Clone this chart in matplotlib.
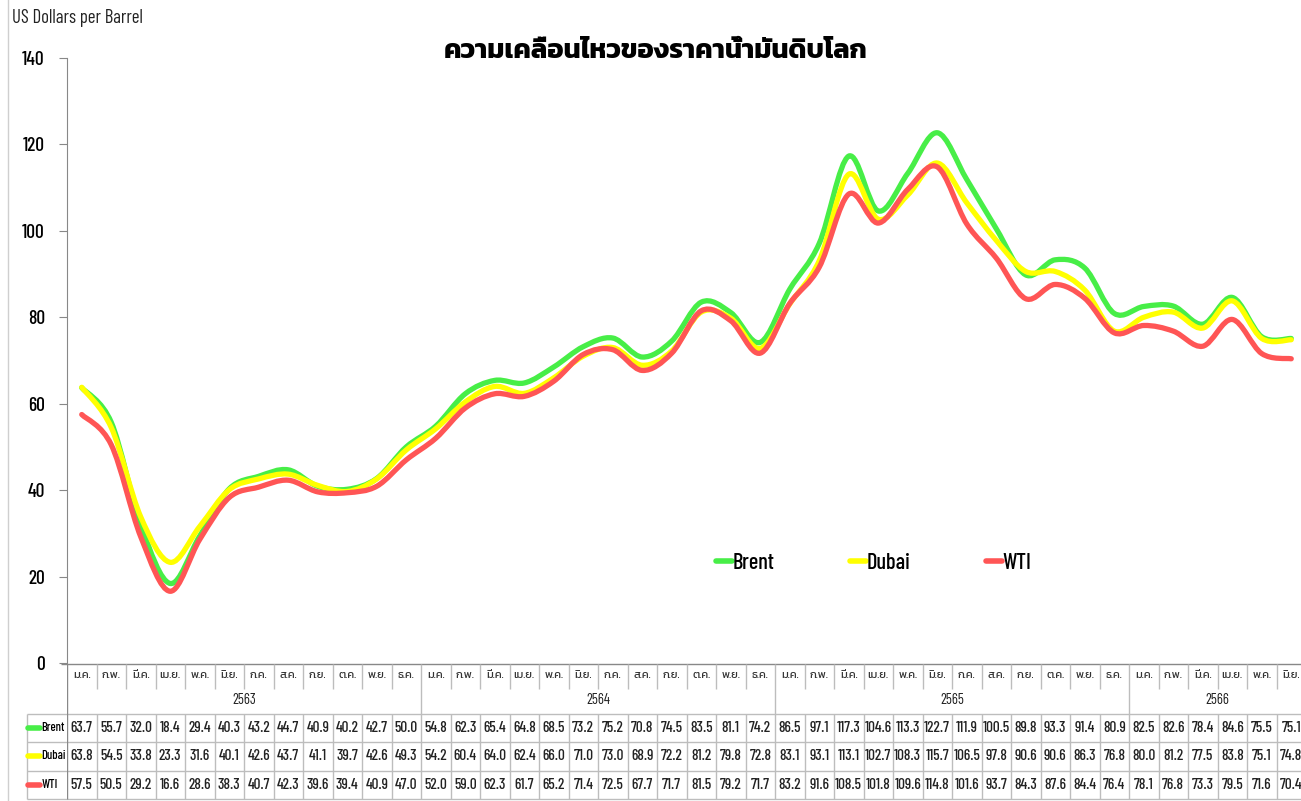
import numpy as np
import matplotlib
matplotlib.use("Agg")
import matplotlib.pyplot as plt
from matplotlib.path import Path
from matplotlib.patches import PathPatch
from matplotlib.lines import Line2D

# months (Thai abbreviations) and Buddhist-era years
months = ["ม.ค.", "ก.พ.", "มี.ค.", "เม.ย.", "พ.ค.", "มิ.ย.",
          "ก.ค.", "ส.ค.", "ก.ย.", "ต.ค.", "พ.ย.", "ธ.ค."]
years = ["2563", "2564", "2565", "2566"]
month_labels = months * 3 + months[:6]

brent = [63.7, 55.7, 32.0, 18.4, 29.4, 40.3, 43.2, 44.7, 40.9, 40.2, 42.7, 50.0,
         54.8, 62.3, 65.4, 64.8, 68.5, 73.2, 75.2, 70.8, 74.5, 83.5, 81.1, 74.2,
         86.5, 97.1, 117.3, 104.6, 113.3, 122.7, 111.9, 100.5, 89.8, 93.3, 91.4, 80.9,
         82.5, 82.6, 78.4, 84.6, 75.5, 75.1]
dubai = [63.8, 54.5, 33.8, 23.3, 31.6, 40.1, 42.6, 43.7, 41.1, 39.7, 42.6, 49.3,
         54.2, 60.4, 64.0, 62.4, 66.0, 71.0, 73.0, 68.9, 72.2, 81.2, 79.8, 72.8,
         83.1, 93.1, 113.1, 102.7, 108.3, 115.7, 106.5, 97.8, 90.6, 90.6, 86.3, 76.8,
         80.0, 81.2, 77.5, 83.8, 75.1, 74.8]
wti = [57.5, 50.5, 29.2, 16.6, 28.6, 38.3, 40.7, 42.3, 39.6, 39.4, 40.9, 47.0,
       52.0, 59.0, 62.3, 61.7, 65.2, 71.4, 72.5, 67.7, 71.7, 81.5, 79.2, 71.7,
       83.2, 91.6, 108.5, 101.8, 109.6, 114.8, 101.6, 93.7, 84.3, 87.6, 84.4, 76.4,
       78.1, 76.8, 73.3, 79.5, 71.6, 70.4]

series = [("Brent", brent, "#47EE47"), ("Dubai", dubai, "#FFFF00"), ("WTI", wti, "#FF5555")]

cond = ["Barlow Condensed", "Kanit", "DejaVu Sans"]
plt.rcParams["font.family"] = cond


def smooth_path(x, y):
    # Excel-style smoothed line: cubic bezier through each data point
    pts = np.column_stack([x, y])
    verts = [pts[0]]
    codes = [Path.MOVETO]
    n = len(pts)
    for i in range(n - 1):
        p0 = pts[max(i - 1, 0)]
        p1 = pts[i]
        p2 = pts[i + 1]
        p3 = pts[min(i + 2, n - 1)]
        verts += [p1 + (p2 - p0) / 6, p2 - (p3 - p1) / 6, p2]
        codes += [Path.CURVE4] * 3
    return Path(verts, codes)


W, H = 1301, 801
fig = plt.figure(figsize=(W / 100, H / 100), dpi=100)

left_px, col_w = 67, 29.5
x = np.arange(len(brent))
xmax = (W - left_px) / col_w - 0.5

ax = fig.add_axes([left_px / W, 1 - 663 / H, 1 - left_px / W, 605 / H])
ax.set_xlim(-0.5, xmax)
ax.set_ylim(0, 140)
for name, vals, col in series:
    ax.add_patch(PathPatch(smooth_path(x, vals), fill=False, edgecolor=col,
                           lw=3.8, capstyle="round", joinstyle="round"))
    ax.plot([], [], color=col, lw=4, solid_capstyle="round", label=name)

ax.set_yticks(range(0, 141, 20))
ax.set_xticks([])
ax.tick_params(axis="y", length=6, color="#888888", labelsize=14, pad=10)
for lab in ax.get_yticklabels():
    lab.set_fontweight("medium")
for s in ["top", "right", "bottom"]:
    ax.spines[s].set_visible(False)
ax.spines["left"].set_color("#888888")

ax.legend(loc="center left", bbox_to_anchor=((716 - left_px) / (W - left_px), (663 - 563) / 605),
          ncol=3, frameon=False, handlelength=0.7, handletextpad=0.05,
          columnspacing=3.4, prop={"family": cond, "size": 16, "weight": "medium"},
          borderaxespad=0, borderpad=0)

fig.text(656 / W, 1 - 52 / H, "ความเคลื่อนไหวของราคาน้ำมันดิบโลก",
         ha="center", va="center", fontsize=19.5, fontweight="bold", family=["Kanit", "DejaVu Sans"])
fig.text(12 / W, 1 - 18 / H, "US Dollars per Barrel", ha="left", va="center",
         fontsize=13.5, color="#222222")

# left border of the frame
fig.add_artist(Line2D([8 / W, 8 / W], [0, 1], color="#CFCFCF", lw=1))

# data table below the chart
tab = fig.add_axes([left_px / W, 0, 1 - left_px / W, 138 / H])
tab.set_xlim(-0.5, xmax)
tab.set_ylim(138, 0)
tab.axis("off")
grid = "#BDBDBD"
leg_x = (27 - left_px) / col_w - 0.5

tab.hlines(1, -0.5 - 6 / col_w, xmax, color="#888888", lw=1, clip_on=False)
for yy in [51, 79, 108, 136]:
    tab.hlines(yy, leg_x, xmax, color=grid, lw=1, clip_on=False)
tab.vlines(leg_x, 51, 136, color=grid, lw=1, clip_on=False)
for k in range(len(x) + 1):
    b = k - 0.5
    if k % 12 == 0:
        tab.vlines(b, 1, 136, color="#888888" if k == 0 else grid, lw=1)
    else:
        tab.vlines(b, 1, 26, color=grid, lw=1)
        tab.vlines(b, 51, 136, color=grid, lw=1)

for i, m in enumerate(month_labels):
    tab.text(i, 13, m, ha="center", va="center", fontsize=8, color="#333333",
             family=["Kanit", "DejaVu Sans"])
for j, yr in enumerate(years):
    span = x[j * 12:(j + 1) * 12]
    tab.text((span[0] + span[-1]) / 2, 37, yr, ha="center", va="center",
             fontsize=10.5, color="#222222")

row_y = [65, 93, 122]
for (name, vals, col), ry in zip(series, row_y):
    tab.plot([leg_x + 0.05, leg_x + 0.45], [ry, ry], color=col, lw=4,
             solid_capstyle="round", clip_on=False)
    tab.text(leg_x + 0.48, ry, name, ha="left", va="center", fontsize=9,
             fontweight="medium", clip_on=False)
    for i, v in enumerate(vals):
        tab.text(i, ry, f"{v:.1f}", ha="center", va="center", fontsize=11,
                 fontweight="medium", color="#222222")

fig.savefig("out.png", dpi=100)
